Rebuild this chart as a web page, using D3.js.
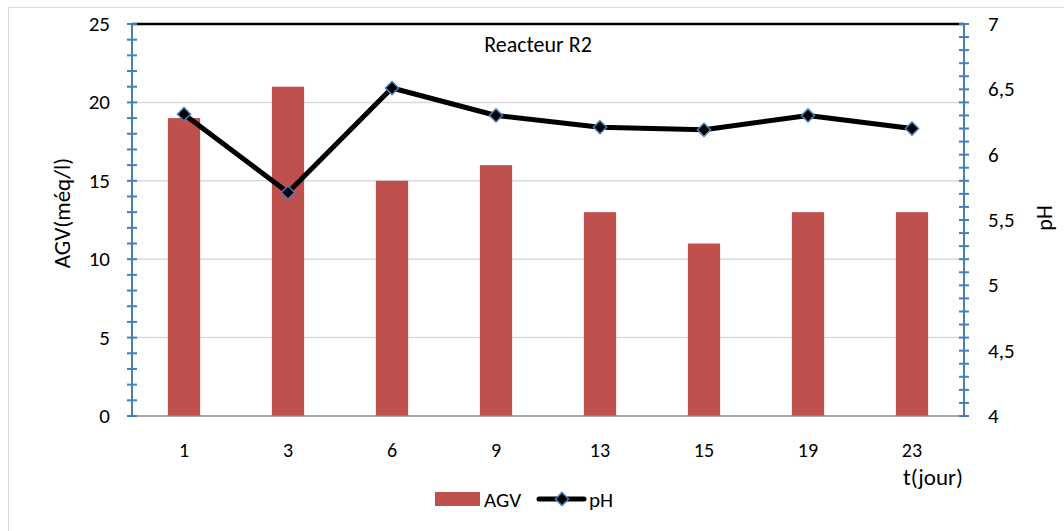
<!DOCTYPE html>
<meta charset="utf-8">
<head>
<title>Reacteur R2</title>
<script type="text/javascript" src="https://d3js.org/d3.v7.min.js"></script>
<style>
    body { margin: 0; background: #fff; }
    text { font-family: Carlito, Lato, "Open Sans", sans-serif; fill: #000; }
</style>
</head>
<body>
<div id="chart"></div>
<script>
    // data
    var days = ["1", "3", "6", "9", "13", "15", "19", "23"];
    var agv = [19, 21, 15, 16, 13, 11, 13, 13];
    var ph = [6.31, 5.71, 6.51, 6.3, 6.21, 6.19, 6.3, 6.2];
    var leftTicks = [0, 5, 10, 15, 20, 25];
    var rightTicks = [4, 4.5, 5, 5.5, 6, 6.5, 7];

    var width = 1064, height = 531;
    var margin = {top: 24, right: 100, bottom: 115, left: 132};

    var svg = d3.select("#chart").append("svg")
        .attr("width", width)
        .attr("height", height);

    // chart frame
    svg.append("rect")
        .attr("x", 8.5).attr("y", 7.5)
        .attr("width", width + 20).attr("height", height + 20)
        .attr("fill", "none").attr("stroke", "#d9d9d9");

    var x = d3.scaleBand()
        .domain(days)
        .range([margin.left, width - margin.right])
        .paddingInner(0.69).paddingOuter(0.345);

    var y = d3.scaleLinear().domain([0, 25]).range([height - margin.bottom, margin.top]);
    var y2 = d3.scaleLinear().domain([4, 7]).range([height - margin.bottom, margin.top]);

    var x0 = margin.left, x1 = width - margin.right;

    // gridlines
    svg.append("g").selectAll("line")
        .data(leftTicks.slice(1, -1))
        .enter().append("line")
        .attr("x1", x0).attr("x2", x1)
        .attr("y1", d => y(d)).attr("y2", d => y(d))
        .attr("stroke", "#d9d9d9").attr("stroke-width", 1.5);

    // top line
    svg.append("line")
        .attr("x1", x0).attr("x2", x1)
        .attr("y1", y(25)).attr("y2", y(25))
        .attr("stroke", "#000").attr("stroke-width", 2.5);

    // bars
    svg.append("g").selectAll("rect")
        .data(agv)
        .enter().append("rect")
        .attr("x", (d, i) => x(days[i]))
        .attr("width", x.bandwidth())
        .attr("y", d => y(d))
        .attr("height", d => y(0) - y(d))
        .attr("fill", "#c0504d");

    // bottom axis line
    svg.append("line")
        .attr("x1", x0).attr("x2", x1)
        .attr("y1", y(0)).attr("y2", y(0))
        .attr("stroke", "#888").attr("stroke-width", 1.5);

    // x labels
    svg.append("g").selectAll("text")
        .data(days)
        .enter().append("text")
        .attr("x", d => x(d) + x.bandwidth() / 2)
        .attr("y", 457)
        .attr("text-anchor", "middle")
        .attr("font-size", 20)
        .text(d => d);

    svg.append("text")
        .attr("x", 933).attr("y", 485)
        .attr("text-anchor", "middle")
        .attr("font-size", 23)
        .text("t(jour)");

    // vertical axes with crossing minor ticks
    function drawAxis(xpos, scale, minor) {
        var g = svg.append("g");
        g.append("line")
            .attr("x1", xpos).attr("x2", xpos)
            .attr("y1", scale.range()[1]).attr("y2", scale.range()[0])
            .attr("stroke", "#4a7ebb").attr("stroke-width", 2);
        g.selectAll(".tick")
            .data(minor)
            .enter().append("line")
            .attr("x1", xpos - 5).attr("x2", xpos + 5)
            .attr("y1", d => scale(d)).attr("y2", d => scale(d))
            .attr("stroke", "#4a7ebb").attr("stroke-width", 2);
    }
    drawAxis(x0, y, d3.range(0, 25.01, 1));
    drawAxis(x1, y2, d3.range(0, 31).map(i => 4 + i * 0.1));

    svg.append("g").selectAll("text")
        .data(leftTicks)
        .enter().append("text")
        .attr("x", 110).attr("y", d => y(d) + 7)
        .attr("text-anchor", "end")
        .attr("font-size", 21)
        .text(d => d);

    svg.append("g").selectAll("text")
        .data(rightTicks)
        .enter().append("text")
        .attr("x", 988).attr("y", d => y2(d) + 7)
        .attr("font-size", 21)
        .text(d => String(d).replace(".", ","));

    // axis titles
    svg.append("text")
        .attr("transform", "translate(70,213) rotate(-90)")
        .attr("text-anchor", "middle")
        .attr("font-size", 23)
        .text("AGV(méq/l)");

    svg.append("text")
        .attr("transform", "translate(1052,218) rotate(-90)")
        .attr("text-anchor", "middle")
        .attr("font-size", 22)
        .text("pH");

    svg.append("text")
        .attr("x", 538).attr("y", 52)
        .attr("text-anchor", "middle")
        .attr("font-size", 22)
        .text("Reacteur R2");

    // pH line
    var line = d3.line()
        .x((d, i) => x(days[i]) + x.bandwidth() / 2)
        .y(d => y2(d));

    svg.append("path")
        .datum(ph)
        .attr("d", line)
        .attr("fill", "none")
        .attr("stroke", "#000")
        .attr("stroke-width", 5)
        .attr("stroke-linejoin", "round");

    var diamond = d3.symbol().type(d3.symbolDiamond2).size(110);
    svg.append("g").selectAll("path")
        .data(ph)
        .enter().append("path")
        .attr("d", diamond)
        .attr("transform", (d, i) => "translate(" + (x(days[i]) + x.bandwidth() / 2) + "," + y2(d) + ")")
        .attr("fill", "#000")
        .attr("stroke", "#4a7ebb")
        .attr("stroke-width", 1.5);

    // legend
    var lg = svg.append("g");
    lg.append("rect")
        .attr("x", 435).attr("y", 492).attr("width", 45).attr("height", 14)
        .attr("fill", "#c0504d");
    lg.append("text")
        .attr("x", 484).attr("y", 507)
        .attr("font-size", 21)
        .text("AGV");
    lg.append("line")
        .attr("x1", 539).attr("x2", 584).attr("y1", 499).attr("y2", 499)
        .attr("stroke", "#000").attr("stroke-width", 5).attr("stroke-linecap", "round");
    lg.append("path")
        .attr("d", diamond)
        .attr("transform", "translate(562,499)")
        .attr("fill", "#000").attr("stroke", "#4a7ebb").attr("stroke-width", 1.5);
    lg.append("text")
        .attr("x", 589).attr("y", 507)
        .attr("font-size", 21)
        .text("pH");
</script>
</body>
</html>
